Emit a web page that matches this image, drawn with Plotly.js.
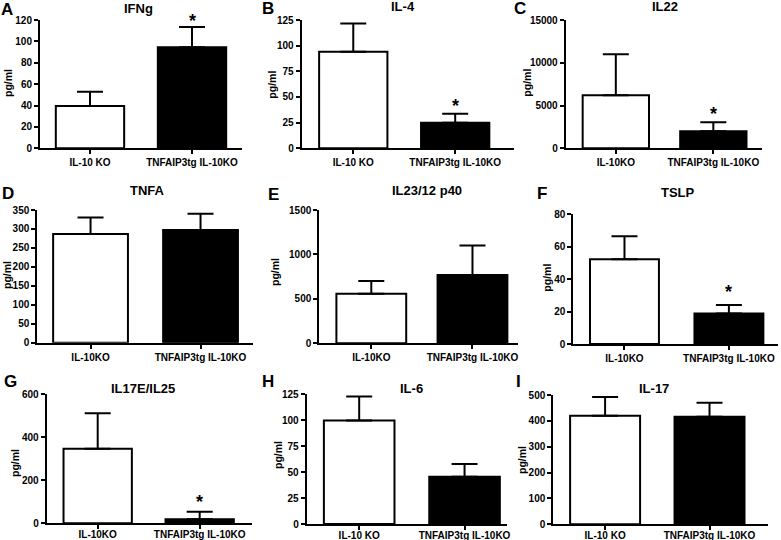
<!DOCTYPE html>
<html>
<head>
<meta charset="utf-8">
<script src="https://cdn.plot.ly/plotly-3.0.1.min.js"></script>
<style>html,body{margin:0;padding:0;background:#fff;}#chart{width:781px;height:540px;}</style>
</head>
<body>
<div id="chart"></div>
<script>
// ---- data ----
const groups = ["IL-10 KO", "TNFAIP3tg IL-10KO"];
const groupsNoSpace = ["IL-10KO", "TNFAIP3tg IL-10KO"];
const panelLetters = ["A","B","C","D","E","F","G","H","I"];
const panelTitles = ["IFNg","IL-4","IL22","TNFA","IL23/12 p40","TSLP","IL17E/IL25","IL-6","IL-17"];
const yTitle = "pg/ml";

const ifngMean = [39.5, 94.5];   const ifngErr = [13.5, 19];
const il4Mean  = [94, 25];       const il4Err  = [27.5, 8.7];
const il22Mean = [6200, 2000];   const il22Err = [4800, 1050];
const tnfaMean = [287, 297];     const tnfaErr = [43, 43];
const il23Mean = [558, 768];     const il23Err = [143, 332];
const tslpMean = [52.2, 18.8];   const tslpErr = [14.3, 5.2];
const il25Mean = [347, 18.6];    const il25Err = [165, 35];
const il6Mean  = [99.5, 45.5];   const il6Err  = [23, 12.2];
const il17Mean = [420, 416];     const il17Err = [72, 54];

const significant = [true, true, true, false, false, true, true, false, false];
const yMax  = [120, 125, 15000, 350, 1500, 80, 600, 125, 500];
const yStep = [20, 25, 5000, 50, 500, 20, 200, 25, 100];

const means = [ifngMean, il4Mean, il22Mean, tnfaMean, il23Mean, tslpMean, il25Mean, il6Mean, il17Mean];
const errs  = [ifngErr, il4Err, il22Err, tnfaErr, il23Err, tslpErr, il25Err, il6Err, il17Err];
const cats  = [groups, groups, groupsNoSpace, groupsNoSpace, groupsNoSpace, groupsNoSpace, groupsNoSpace, groups, groups];

// ---- geometry (pixels in the 781x540 figure) ----
const W = 781, H = 540;
const geo = [
  {ax:40,    xe:242,   yt:20,    yb:148.3, xr:[-0.49,1.49],  w:0.67, yl:[8,83],     tt:[138,8],   lt:[7,9],     ss:5,  so:0},
  {ax:301.7, xe:514,   yt:20,    yb:148.3, xr:[-0.506,1.577],w:0.67, yl:[271.7,85], tt:[403,7],   lt:[268,8],   ss:7,  so:0},
  {ax:565.7, xe:761.7, yt:20,    yb:148.3, xr:[-0.514,1.496],w:0.68, yl:[526.7,83], tt:[665,7],   lt:[520,8],   ss:7,  so:0},
  {ax:37.3,  xe:253,   yt:210,   yb:342.7, xr:[-0.484,1.477],w:0.68, yl:[7,275],    tt:[147,190], lt:[8,193],   ss:7,  so:0},
  {ax:319.3, xe:518,   yt:210,   yb:343.3, xr:[-0.514,1.45], w:0.69, yl:[275,272],  tt:[427,190], lt:[273,194], ss:7,  so:0},
  {ax:573.3, xe:778,   yt:214.3, yb:344,   xr:[-0.49,1.47],  w:0.66, yl:[546.7,278],tt:[678,192], lt:[542,193], ss:12, so:0},
  {ax:46.7,  xe:251.7, yt:394.3, yb:523.3, xr:[-0.5,1.51],   w:0.67, yl:[15,463],   tt:[143,388], lt:[10,381],  ss:9,  so:-3},
  {ax:306.7, xe:506.7, yt:394,   yb:524,   xr:[-0.498,1.40], w:0.67, yl:[278,455],  tt:[411,388], lt:[268,381], ss:7,  so:-3},
  {ax:553.3, xe:768,   yt:395,   yb:524.3, xr:[-0.496,1.56], w:0.67, yl:[522,460],  tt:[654,388], lt:[518,381], ss:7,  so:-3}
];

const FONT = "Liberation Sans, Arial, Helvetica, sans-serif";
const traces = [];
const annotations = [];
const layout = {
  width: W, height: H,
  margin: {l:0, r:0, t:0, b:0},
  paper_bgcolor: "#fff", plot_bgcolor: "rgba(0,0,0,0)",
  showlegend: false,
  font: {family: FONT, color: "#000"},
  annotations: annotations
};

for (let i = 0; i < 9; i++) {
  const g = geo[i];
  const n = i + 1;
  const xa = n === 1 ? "x" : "x" + n;
  const ya = n === 1 ? "y" : "y" + n;
  traces.push({
    type: "bar",
    x: cats[i], y: means[i],
    xaxis: xa, yaxis: ya,
    width: g.w,
    marker: {color: ["#ffffff", "#000000"], line: {color: "#000", width: 2}},
    error_y: {type: "data", symmetric: false, array: errs[i], arrayminus: [0, 0],
              color: "#000", thickness: 2, width: 13},
    hoverinfo: "skip"
  });
  layout["xaxis" + (n === 1 ? "" : n)] = {
    domain: [g.ax / W, g.xe / W], anchor: ya,
    type: "category", categoryorder: "array", categoryarray: cats[i],
    range: g.xr, showgrid: false, zeroline: false,
    showline: true, linecolor: "#000", linewidth: 2,
    ticks: "outside", ticklen: 4, tickwidth: 2, tickcolor: "#000",
    ticklabelstandoff: g.so,
    tickfont: {family: FONT, size: 10, weight: "bold", color: "#000"},
    fixedrange: true
  };
  layout["yaxis" + (n === 1 ? "" : n)] = {
    domain: [1 - g.yb / H, 1 - g.yt / H], anchor: xa,
    range: [0, yMax[i]], dtick: yStep[i], tick0: 0, tickformat: "d",
    showgrid: false, zeroline: false,
    showline: true, linecolor: "#000", linewidth: 2,
    ticks: "outside", ticklen: 4, tickwidth: 2, tickcolor: "#000",
    tickfont: {family: FONT, size: 10, weight: "bold", color: "#000"},
    fixedrange: true
  };
  // y title
  annotations.push({xref: "paper", yref: "paper", x: g.yl[0] / W, y: 1 - g.yl[1] / H,
    text: yTitle, textangle: -90, showarrow: false, xanchor: "center", yanchor: "middle",
    font: {family: FONT, size: 10.5, weight: "bold", color: "#000"}});
  // panel title
  annotations.push({xref: "paper", yref: "paper", x: g.tt[0] / W, y: 1 - g.tt[1] / H,
    text: panelTitles[i], showarrow: false, xanchor: "center", yanchor: "middle",
    font: {family: FONT, size: 13, weight: "bold", color: "#000"}});
  // panel letter
  annotations.push({xref: "paper", yref: "paper", x: g.lt[0] / W, y: 1 - g.lt[1] / H,
    text: panelLetters[i], showarrow: false, xanchor: "center", yanchor: "middle",
    font: {family: FONT, size: 17, weight: "bold", color: "#000"}});
  // significance star
  if (significant[i]) {
    annotations.push({xref: xa, yref: ya, x: cats[i][1], y: means[i][1] + errs[i][1],
      text: "*", showarrow: false, xanchor: "center", yanchor: "middle", yshift: g.ss + 1,
      font: {family: FONT, size: 18, weight: "bold", color: "#000"}});
  }
}

Plotly.newPlot("chart", traces, layout, {displayModeBar: false, staticPlot: true});
</script>
</body>
</html>
